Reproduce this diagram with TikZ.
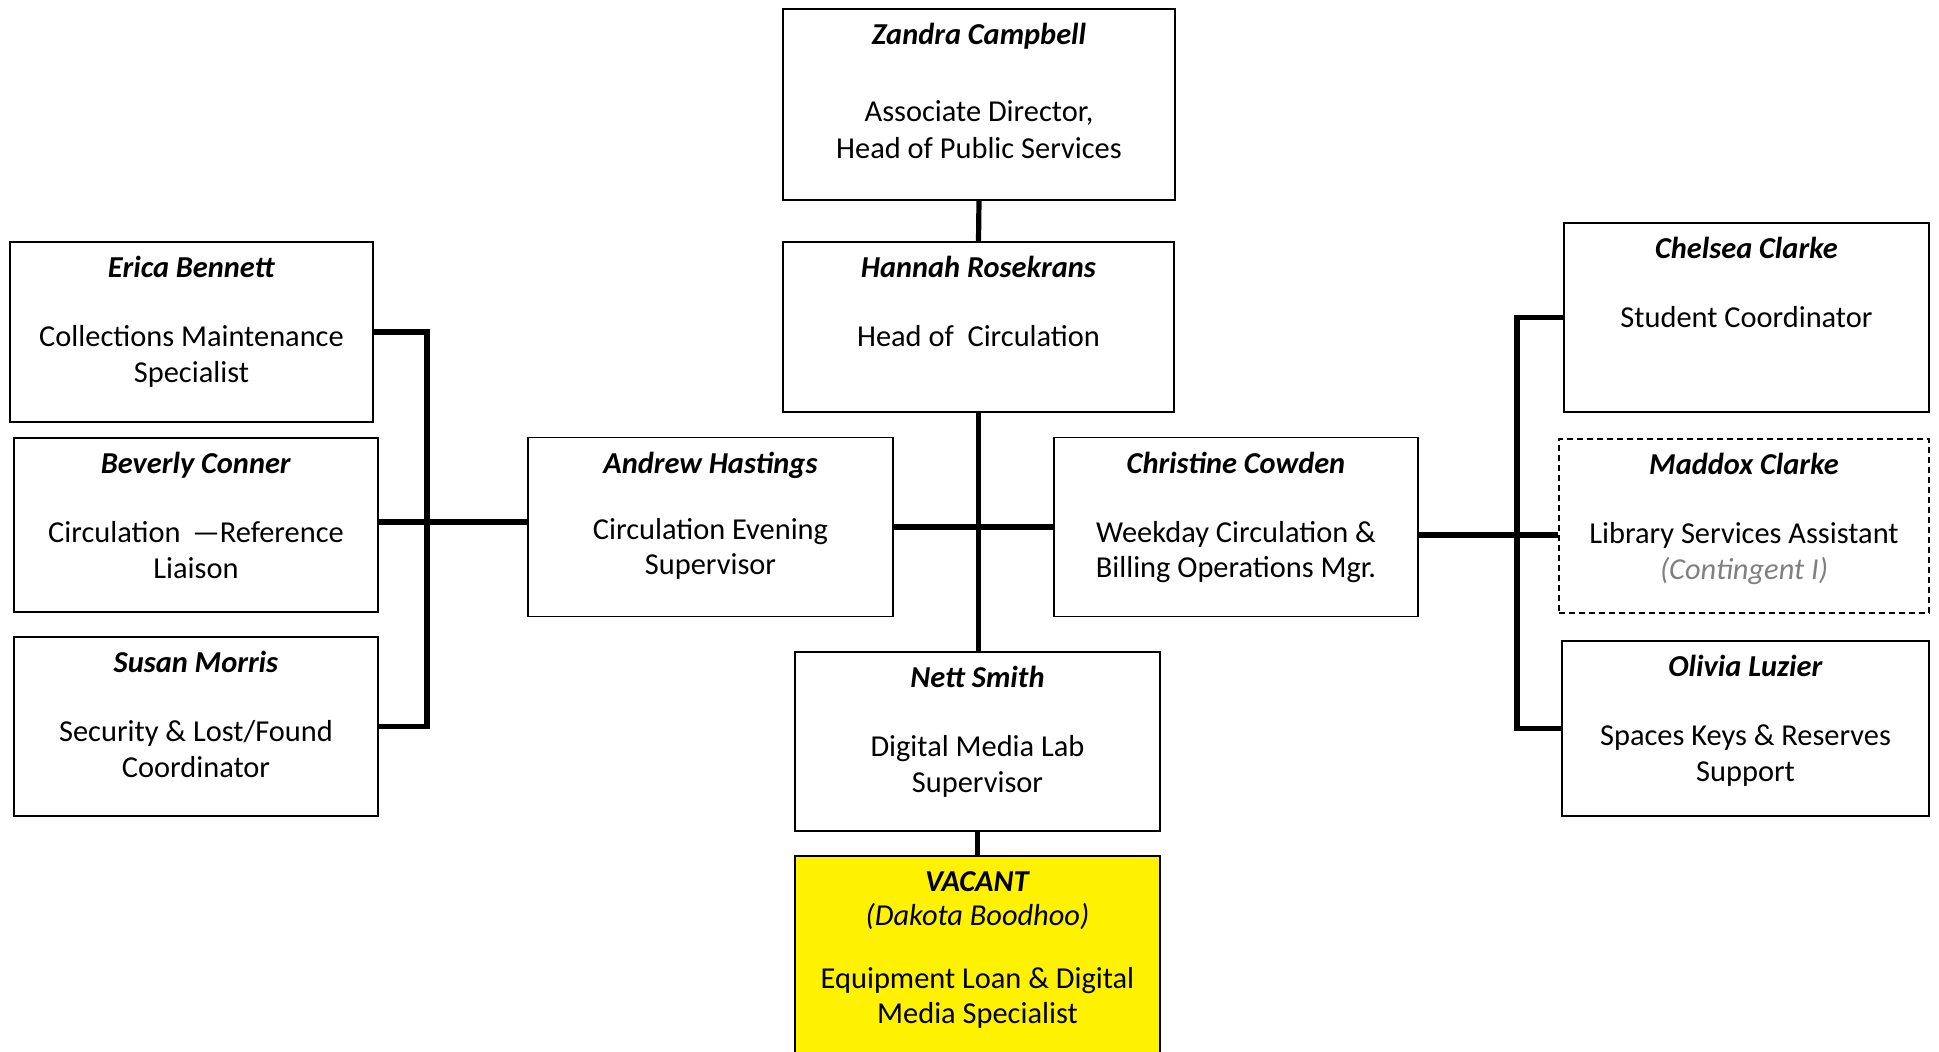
\documentclass[tikz,border=0pt]{standalone}
\usepackage{fontspec}
\setmainfont{Carlito}
\usetikzlibrary{positioning,calc}

\tikzset{
	box/.style={draw=black, fill=white, line width=0.8pt, inner sep=0pt},
	boxtext/.style={anchor=north, inner sep=0pt, yshift=-7pt, align=center,
		font=\fontsize{15.2}{17.7}\selectfont},
	conn/.style={line width=2.6pt},
	vacantbox/.style={fill=yellow},
	tempbox/.style={dash pattern=on 3pt off 2pt},
}

\newcommand{\pname}[1]{\textbf{\textit{#1}}}

\begin{document}
\begin{tikzpicture}[x=0.5pt, y=-0.5pt]
	
	\useasboundingbox (0,0) rectangle (1939,1052);
	
	% one box: node name #1, centre (#2,#3), size #4 x #5, text #6, extra style #7
	\newcommand{\orgbox}[7]{%
		\node[box, #7, minimum width=#4*0.5pt, minimum height=#5*0.5pt] (#1) at (#2,#3) {};
		\node[boxtext] at (#1.north) {\rule{0pt}{11pt}#6};
	}
	
	% top of the tree
	\orgbox{zandra}{979}{104.5}{392}{191}{\pname{Zandra Campbell}\\[21pt]Associate Director,\\[0.8pt]Head of Public Services}{}
	\orgbox{hannah}{978.5}{327}{391}{170}{\pname{Hannah Rosekrans}\\[17pt]Head of \ Circulation}{}
	
	% left column
	\orgbox{erica}{191.5}{332}{363}{180}{\pname{Erica Bennett}\\[17pt]Collections Maintenance\\Specialist}{}
	\orgbox{beverly}{196}{525}{364}{174}{\pname{Beverly Conner}\\[17pt]Circulation \,---Reference\\Liaison}{}
	\orgbox{susan}{196}{726.5}{364}{179}{\pname{Susan Morris}\\[17pt]Security \& Lost/Found\\Coordinator}{}
	
	% middle row
	\orgbox{andrew}{710.5}{527}{365}{179}{\pname{Andrew Hastings}\\[15.5pt]Circulation Evening\\Supervisor}{}
	\orgbox{christine}{1236}{527}{364}{179}{\pname{Christine Cowden}\\[17pt]Weekday Circulation \&\\Billing Operations Mgr.}{}
	\orgbox{nett}{977.5}{741.5}{365}{179}{\pname{Nett Smith}\\[17pt]Digital Media Lab\\Supervisor}{}
	\orgbox{vacant}{977.5}{963}{365}{214}{\pname{VACANT}\\[-1pt]\textit{(Dakota Boodhoo)}\\[14pt]Equipment Loan \& Digital\\Media Specialist}{vacantbox}
	
	% right column
	\orgbox{chelsea}{1746.5}{317.5}{365}{189}{\pname{Chelsea Clarke}\\[17pt]Student Coordinator}{}
	\orgbox{maddox}{1744}{526}{370}{174}{\pname{Maddox Clarke}\\[17pt]Library Services Assistant\\\textcolor{gray}{\textit{(Contingent I)}}}{tempbox}
	\orgbox{olivia}{1745.5}{728.5}{367}{175}{\pname{Olivia Luzier}\\[17pt]Spaces Keys \& Reserves\\Support}{}
	
	% bus lines
	\coordinate (lbus) at (427,0);
	\coordinate (lmid) at (0,522);
	\coordinate (rbus) at (1517,0);
	\coordinate (rmid) at (0,535);
	
	\draw[conn] (zandra.south) -- (hannah.north);
	\draw[conn] (hannah.south) -- (hannah.south |- nett.north);
	\draw[conn] (nett.south) -- (vacant.north);
	\draw[conn] (andrew.east) -- (christine.west);
	
	\draw[conn] (erica.east) -- (erica.east -| lbus) -- (susan.east -| lbus) -- (susan.east);
	\draw[conn] (beverly.east |- lmid) -- (andrew.west |- lmid);
	
	\draw[conn] (chelsea.west) -- (chelsea.west -| rbus) -- (olivia.west -| rbus) -- (olivia.west);
	\draw[conn] (christine.east |- rmid) -- (maddox.west |- rmid);
	
\end{tikzpicture}
\end{document}
